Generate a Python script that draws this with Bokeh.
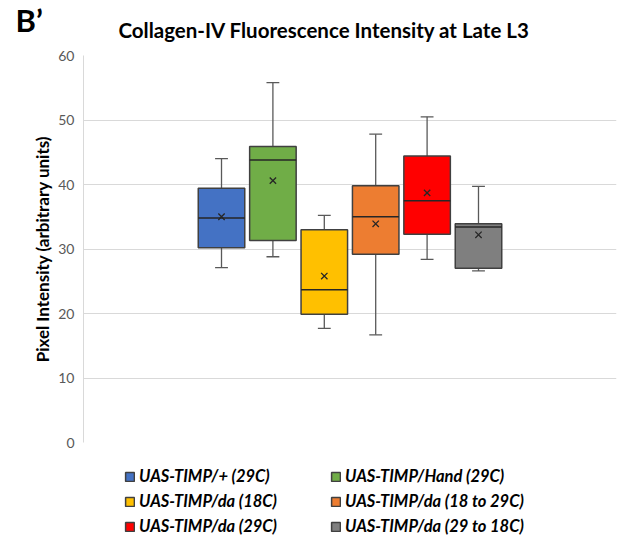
from bokeh.plotting import figure
from bokeh.models import Range1d, Label, Legend, LegendItem, ColumnDataSource
from bokeh.layouts import column
from bokeh.embed import file_html
from bokeh.resources import INLINE

# ---- data ----
groups = ["UAS-TIMP/+ (29C)", "UAS-TIMP/Hand (29C)", "UAS-TIMP/da (18C)",
          "UAS-TIMP/da (18 to 29C)", "UAS-TIMP/da (29C)", "UAS-TIMP/da (29 to 18C)"]
colors = ["#4472C4", "#70AD47", "#FFC000", "#ED7D31", "#FF0000", "#7F7F7F"]
whisker_low = [27.1, 28.8, 17.7, 16.7, 28.4, 26.6]
q1 = [30.2, 31.3, 19.9, 29.2, 32.3, 27.0]
median = [34.8, 43.8, 23.7, 35.0, 37.5, 33.4]
q3 = [39.4, 45.9, 33.0, 39.8, 44.4, 33.9]
whisker_high = [44.0, 55.8, 35.2, 47.8, 50.5, 39.7]
mean = [35.0, 40.6, 25.8, 33.9, 38.7, 32.2]
y_ticks = [0, 10, 20, 30, 40, 50, 60]
title_text = "Collagen-IV Fluorescence Intensity at Late L3"
panel_tag = "B\u2019"

FONT = "Lato"
xs = list(range(len(groups)))
box_w = 0.905
cap_w = 0.25


def blank(h, xr, yr):
    f = figure(width=624, height=h, output_backend="svg", toolbar_location=None,
               x_range=xr, y_range=yr,
               x_axis_location=None, y_axis_location=None,
               min_border=0, min_border_left=0, min_border_right=0,
               min_border_top=0, min_border_bottom=0)
    f.outline_line_color = None
    f.grid.visible = False
    f.frame_align = False
    return f


# ---- header strip: panel letter and title ----
top = blank(48, Range1d(0, 624), Range1d(0, 48))
top.add_layout(Label(x=118, y=18.5, x_units="screen", y_units="screen", text=title_text,
                     text_font=FONT, text_font_size="20.5px", text_font_style="bold",
                     text_color="#000000", text_baseline="middle"))
top.add_layout(Label(x=15, y=29, x_units="screen", y_units="screen", text=panel_tag,
                     text_font=FONT, text_font_size="31px", text_font_style="bold",
                     text_color="#000000", text_baseline="middle"))

# ---- main chart ----
p = figure(width=624, height=404, output_backend="svg", toolbar_location=None,
           x_range=Range1d(-2.685, 7.685), y_range=Range1d(0, 60),
           x_axis_location=None,
           min_border=0, min_border_left=83, min_border_right=8,
           min_border_top=7, min_border_bottom=10)
p.frame_align = False
p.outline_line_color = None
p.xgrid.grid_line_color = None
p.ygrid.grid_line_color = "#D9D9D9"
p.ygrid.grid_line_width = 1
p.yaxis.ticker = y_ticks
p.yaxis.axis_line_color = "#D9D9D9"
p.yaxis.major_tick_line_color = None
p.yaxis.minor_tick_line_color = None
p.yaxis.major_tick_out = 0
p.yaxis.major_tick_in = 0
p.yaxis.minor_tick_out = 0
p.yaxis.major_label_standoff = 9
p.yaxis.major_label_text_font = FONT
p.yaxis.major_label_text_font_size = "14px"
p.yaxis.major_label_text_color = "#595959"
p.yaxis.axis_label = "Pixel Intensity (arbitrary units)"
p.yaxis.axis_label_text_font = FONT
p.yaxis.axis_label_text_font_size = "17px"
p.yaxis.axis_label_text_font_style = "bold"
p.yaxis.axis_label_text_color = "#000000"
p.yaxis.axis_label_standoff = 2

src = ColumnDataSource(dict(x=xs, lo=whisker_low, q1=q1, med=median, q3=q3, hi=whisker_high,
                            mean=mean, xl=[x - cap_w / 2 for x in xs], xr=[x + cap_w / 2 for x in xs],
                            bl=[x - box_w / 2 for x in xs], br=[x + box_w / 2 for x in xs]))
wk = dict(source=src, line_color="#595959", line_width=1.3)
p.segment(x0="x", y0="lo", x1="x", y1="q1", **wk)
p.segment(x0="x", y0="q3", x1="x", y1="hi", **wk)
p.segment(x0="xl", y0="lo", x1="xr", y1="lo", **wk)
p.segment(x0="xl", y0="hi", x1="xr", y1="hi", **wk)

for i in xs:
    p.vbar(x=[i], width=box_w, bottom=[q1[i]], top=[q3[i]], fill_color=colors[i],
           line_color="#404040", line_width=1.5)

p.segment(x0="bl", y0="med", x1="br", y1="med", source=src, line_color="#262626", line_width=1.5)
p.scatter(x="x", y="mean", source=src, marker="x", size=9, line_color="#262626", line_width=1.3)

# ---- legend strip (its boxes are hidden; only the key shows) ----
bot = blank(86, Range1d(100, 724), Range1d(-200, -114))
items = []
for i in xs:
    r = bot.vbar(x=[i], width=box_w, bottom=[q1[i]], top=[q3[i]], fill_color=colors[i],
                 line_color="#404040", line_width=1.5)
    r.visible = False
    items.append(LegendItem(label=groups[i], renderers=[r]))
legend = Legend(items=items, ncols=2, orientation="horizontal",
                location=(124, 2), glyph_width=11, glyph_height=11, label_height=14,
                label_width=186, label_standoff=4, spacing=5, padding=0, margin=0,
                border_line_color=None, background_fill_alpha=0,
                label_text_font=FONT, label_text_font_size="16.5px",
                label_text_font_style="bold italic", label_text_color="#000000")
bot.add_layout(legend, "center")

layout = column(top, p, bot, spacing=0)
open("out.html", "w").write(file_html(layout, INLINE))
